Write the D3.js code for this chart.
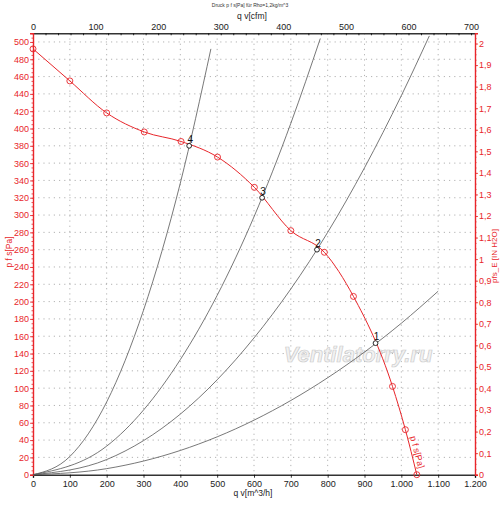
<!DOCTYPE html>
<html>
<head>
<meta charset="utf-8">
<script src="https://cdn.jsdelivr.net/npm/d3@7"></script>
<style>
  body { margin: 0; background: #fff; }
  svg { font-family: "Liberation Sans", Arial, sans-serif; }
</style>
</head>
<body>
<div id="chart"></div>
<script>
// Fan curve (q in m^3/h, p in Pa)
const fanFlow     = [0, 100, 200, 302, 402, 501, 601, 700, 791, 870, 976, 1011, 1042];
const fanPressure = [492, 455, 418, 396, 385, 367, 332, 282, 257, 206, 102, 52, 0];

// System curves (resistance parabolas)
const sysCurves = [
  { flow: [0, 100, 200, 300, 400, 483],            pressure: [0, 21, 84, 190, 337, 492] },
  { flow: [0, 200, 400, 600, 700, 780],            pressure: [0, 33, 133, 298, 406, 504] },
  { flow: [0, 200, 400, 600, 800, 1000, 1076],     pressure: [0, 17.5, 70, 158, 280, 438, 507] },
  { flow: [0, 200, 400, 600, 800, 1000, 1100],     pressure: [0, 7, 28, 63, 112, 175, 212] }
];

// Operating points
const opLabels   = ["1", "2", "3", "4"];
const opFlow     = [930, 771, 622, 424];
const opPressure = [152, 260, 320, 380];

const bottomTicks = [0, 100, 200, 300, 400, 500, 600, 700, 800, 900, 1000, 1100, 1200];
const topTicks = [0, 100, 200, 300, 400, 500, 600, 700];
const leftTicks = d3.range(0, 501, 20);
const rightTicks = [0, 0.1, 0.2, 0.3, 0.4, 0.5, 0.6, 0.7, 0.8, 0.9, 1, 1.1, 1.2, 1.3, 1.4, 1.5, 1.6, 1.7, 1.8, 1.9, 2];

const width = 500, height = 506;
const plotLeft = 33, plotRight = 475, plotTop = 33.3, plotBottom = 474.7;
const red = "#e8262b";
const PA_PER_INH2O = 249.089;
const M3H_PER_CFM = 1.699;

const svg = d3.select("#chart").append("svg")
    .attr("width", width)
    .attr("height", height);

const x = d3.scaleLinear().domain([0, 1200]).range([plotLeft, plotRight]);
const xTop = d3.scaleLinear().domain([0, 1200 / M3H_PER_CFM]).range([plotLeft, plotRight]);
const y = d3.scaleLinear().domain([0, 510]).range([plotBottom, plotTop]);
const yRight = d3.scaleLinear().domain([0, 510 / PA_PER_INH2O]).range([plotBottom, plotTop]);

const de = d3.formatLocale({ decimal: ",", thousands: ".", grouping: [3], currency: ["", ""] });

// dotted grid
const grid = svg.append("g").attr("stroke", "#a0a0a0").attr("stroke-width", 0.8)
    .attr("stroke-dasharray", "1.2,4");
grid.selectAll("line.v").data(bottomTicks.slice(1, -1)).enter().append("line")
    .attr("x1", d => x(d)).attr("x2", d => x(d))
    .attr("y1", plotTop).attr("y2", plotBottom);
grid.selectAll("line.h").data(leftTicks.slice(1)).enter().append("line")
    .attr("x1", plotLeft).attr("x2", plotRight)
    .attr("y1", d => y(d)).attr("y2", d => y(d));

// watermark
svg.append("text")
    .attr("x", 358).attr("y", 362)
    .attr("text-anchor", "middle")
    .style("font-size", "22px")
    .style("font-style", "italic")
    .style("font-weight", "bold")
    .attr("fill", "#f2f2f2")
    .attr("stroke", "#cccccc")
    .attr("stroke-width", 0.7)
    .text("Ventilatorry.ru");

// axes
const axBottom = svg.append("g").attr("transform", `translate(0,${plotBottom})`)
    .call(d3.axisBottom(x).tickValues(bottomTicks).tickSize(3).tickFormat(de.format(",")));
const axTop = svg.append("g").attr("transform", `translate(0,${plotTop})`)
    .call(d3.axisTop(xTop).tickValues(topTicks).tickSize(0).tickPadding(3));
svg.append("g").attr("transform", `translate(0,${plotTop})`)
    .call(d3.axisBottom(xTop).tickValues(d3.range(0, 701, 20)).tickSize(2).tickFormat(""))
    .select(".domain").remove();
const axLeft = svg.append("g").attr("transform", `translate(${plotLeft},0)`)
    .call(d3.axisLeft(y).tickValues(leftTicks).tickSize(3).tickPadding(1));
const minorLeft = svg.append("g").attr("transform", `translate(${plotLeft},0)`)
    .call(d3.axisLeft(y).tickValues(d3.range(0, 511, 5)).tickSize(1.5).tickFormat(""));
minorLeft.select(".domain").remove();
const axRight = svg.append("g").attr("transform", `translate(${plotRight},0)`)
    .call(d3.axisRight(yRight).tickValues(rightTicks).tickSize(3).tickPadding(1)
        .tickFormat(d => de.format("")(+d.toFixed(1))));
const minorRight = svg.append("g").attr("transform", `translate(${plotRight},0)`)
    .call(d3.axisRight(yRight).tickValues(d3.range(0, 2.05, 0.025)).tickSize(1.5).tickFormat(""));
minorRight.select(".domain").remove();

[axBottom, axTop].forEach(a => {
  a.selectAll("text").style("font-size", "9px").attr("fill", "#222");
  a.select(".domain").attr("stroke", "#333").attr("stroke-width", 1.4);
});
[axLeft, axRight].forEach(a => {
  a.selectAll("text").style("font-size", "9px").attr("fill", red);
  a.select(".domain").attr("stroke", red).attr("stroke-width", 1.4);
});
svg.selectAll(".tick line").attr("stroke-width", 0.8);
[axLeft, axRight, minorLeft, minorRight].forEach(a => a.selectAll(".tick line").attr("stroke", red));

// titles
svg.append("text").attr("x", 250).attr("y", 7).attr("text-anchor", "middle")
    .style("font-size", "5px").attr("fill", "#333")
    .text("Druck p f s[Pa] für Rho=1,2kg/m^3");
svg.append("text").attr("x", 252).attr("y", 19).attr("text-anchor", "middle")
    .style("font-size", "8.5px").attr("fill", "#222").text("q v[cfm]");
svg.append("text").attr("x", 253).attr("y", 496).attr("text-anchor", "middle")
    .style("font-size", "8.5px").attr("fill", "#222").text("q v[m^3/h]");
svg.append("text").attr("transform", "translate(12,252) rotate(-90)")
    .attr("text-anchor", "middle").style("font-size", "8.5px").attr("fill", red)
    .text("p f s[Pa]");
svg.append("text").attr("transform", "translate(497,256) rotate(-90)")
    .attr("text-anchor", "middle").style("font-size", "8px").attr("fill", red)
    .text("pfs_E [IN H2O]");

// system curves
const line = d3.line().x(d => x(d[0])).y(d => y(d[1])).curve(d3.curveMonotoneX);
svg.selectAll("path.sys").data(sysCurves).enter().append("path")
    .attr("class", "sys")
    .attr("d", c => line(c.flow.map((q, i) => [q, c.pressure[i]])))
    .attr("fill", "none").attr("stroke", "#555").attr("stroke-width", 0.8);

// fan curve
const fanData = fanFlow.map((q, i) => [q, fanPressure[i]]);
svg.append("path").attr("d", line(fanData))
    .attr("fill", "none").attr("stroke", red).attr("stroke-width", 1);
svg.selectAll("circle.fan").data(fanData).enter().append("circle")
    .attr("cx", d => x(d[0])).attr("cy", d => y(d[1])).attr("r", 3)
    .attr("fill", "none").attr("stroke", red).attr("stroke-width", 0.9);
svg.append("text").attr("transform", "translate(410,437) rotate(75)")
    .style("font-size", "9px").attr("fill", red).text("p f s[Pa]");

// operating points
const ops = opLabels.map((l, i) => ({ l, q: opFlow[i], p: opPressure[i] }));
svg.selectAll("circle.op").data(ops).enter().append("circle")
    .attr("cx", d => x(d.q)).attr("cy", d => y(d.p)).attr("r", 2.4)
    .attr("fill", "#fff").attr("stroke", "#111").attr("stroke-width", 0.9);
svg.selectAll("text.op").data(ops).enter().append("text")
    .attr("x", d => x(d.q) + 1).attr("y", d => y(d.p) - 3)
    .attr("text-anchor", "middle")
    .style("font-size", "10px").attr("fill", "#111").text(d => d.l);
</script>
</body>
</html>
